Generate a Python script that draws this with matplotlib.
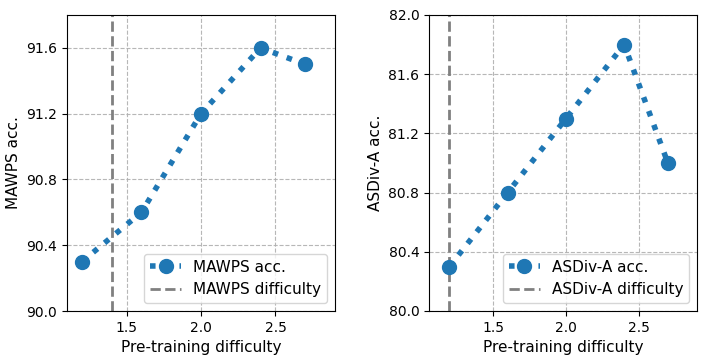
import matplotlib.pyplot as plt

difficulty = [1.2, 1.6, 2.0, 2.4, 2.7]
mawps_acc = [90.3, 90.6, 91.2, 91.6, 91.5]
asdiv_acc = [80.3, 80.8, 81.3, 81.8, 81.0]
mawps_difficulty = 1.4
asdiv_difficulty = 1.2

mawps_yticks = [90.0, 90.4, 90.8, 91.2, 91.6]
asdiv_yticks = [80.0, 80.4, 80.8, 81.2, 81.6, 82.0]
xticks = [1.5, 2.0, 2.5]

BLUE = "#1f77b4"

fig = plt.figure(figsize=(7.06, 3.63), dpi=100)
ax1 = fig.add_axes([67 / 706, 52 / 363, 268 / 706, 296 / 363])
ax2 = fig.add_axes([429 / 706, 52 / 363, 268 / 706, 296 / 363])


def draw(ax, acc, diff, name, ylim, yticks, xlim):
    ax.plot(difficulty, acc, linestyle=":", linewidth=4, marker="o", markersize=10,
            color=BLUE, label=f"{name} acc.", zorder=3)
    ax.axvline(diff, color="gray", linestyle="--", linewidth=2, label=f"{name} difficulty", zorder=2)
    ax.set_xlim(*xlim)
    ax.set_ylim(*ylim)
    ax.set_xticks(xticks)
    ax.set_yticks(yticks)
    ax.set_yticklabels([f"{v:.1f}" for v in yticks])
    ax.grid(True, linestyle="--", color="#b0b0b0", linewidth=0.8, alpha=0.9)
    ax.tick_params(labelsize=10)
    ax.set_xlabel("Pre-training difficulty", fontsize=11)
    ax.set_ylabel(f"{name} acc.", fontsize=11)
    ax.legend(loc="lower right", fontsize=11)


draw(ax1, mawps_acc, mawps_difficulty, "MAWPS", (90.0, 91.8), mawps_yticks, (1.1, 2.9))
draw(ax2, asdiv_acc, asdiv_difficulty, "ASDiv-A", (80.0, 82.0), asdiv_yticks, (1.06, 2.9))

fig.savefig("out.png", dpi=100)
